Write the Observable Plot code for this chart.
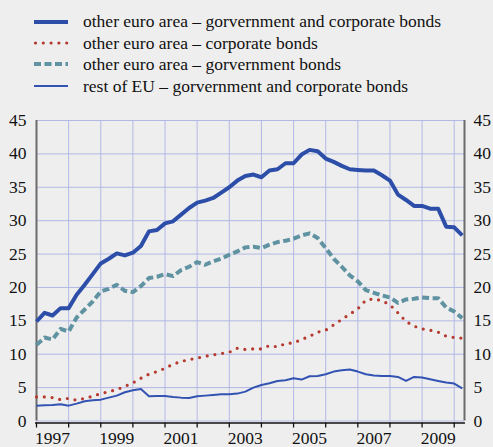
<!DOCTYPE html>
<html>
<head>
<meta charset="utf-8">
<script src="https://cdn.jsdelivr.net/npm/d3@7"></script>
<script src="https://cdn.jsdelivr.net/npm/@observablehq/plot@0.6"></script>
<style>
  body { margin: 0; background: #eeeeee; font-size: 17.5px; }
  .c1 { font-family: 'Liberation Serif'; }
  #legend { position: relative; height: 110px; }
  .sample { position: absolute; left: 34px; width: 34px; height: 8px; overflow: visible; }
  .ltext { position: absolute; left: 83px; white-space: nowrap; line-height: 20px; color: #111; }
</style>
</head>
<body class="c1">
<div id="legend"></div>
<div id="chart"></div>
<script>
// ---- data (quarterly, 1997 Q1 to 2010 Q2), % ----
const startYear = 1997;
const seriesNames = [
  "other euro area – gorvernment and corporate bonds",
  "other euro area – corporate bonds",
  "other euro area – gorvernment bonds",
  "rest of EU – gorvernment and corporate bonds"
];
const euroGovCorp = [14.9,16.2,15.8,16.9,16.9,18.9,20.4,22.0,23.6,24.3,25.1,24.8,25.2,26.2,28.4,28.6,29.6,29.9,30.9,31.9,32.7,33.0,33.4,34.2,35.0,36.0,36.7,36.9,36.5,37.5,37.7,38.6,38.6,39.9,40.6,40.4,39.3,38.8,38.2,37.7,37.6,37.5,37.5,36.8,36.0,33.9,33.1,32.2,32.2,31.8,31.8,29.1,29.0,27.8];
const euroCorp = [3.6,3.6,3.5,3.2,3.4,3.1,3.4,3.7,4.1,4.4,4.7,5.2,5.7,6.4,7.0,7.4,7.9,8.5,8.9,9.2,9.4,9.7,9.9,10.1,10.3,10.9,10.7,10.8,10.8,11.3,11.1,11.6,11.7,12.2,12.7,13.3,13.6,14.4,15.2,16.0,16.8,18.1,18.3,18.0,17.4,16.2,14.9,14.2,13.8,13.6,13.3,12.7,12.5,12.4];
const euroGov = [11.4,12.5,12.2,13.8,13.4,15.5,16.7,17.9,19.4,19.8,20.4,19.5,19.3,20.2,21.4,21.6,22.0,21.7,22.6,23.1,23.8,23.4,23.9,24.3,24.9,25.4,26.0,26.1,25.9,26.4,26.8,27.0,27.3,27.8,28.1,27.4,25.9,24.3,23.1,21.8,20.9,19.6,19.2,18.8,18.5,17.7,18.2,18.3,18.5,18.4,18.4,17.0,16.4,15.4];
const restEU = [2.3,2.35,2.4,2.5,2.3,2.6,2.95,3.1,3.2,3.5,3.8,4.3,4.6,4.8,3.7,3.75,3.75,3.6,3.5,3.45,3.7,3.8,3.9,4.0,4.0,4.1,4.4,5.0,5.4,5.65,6.0,6.1,6.4,6.2,6.7,6.75,7.0,7.4,7.6,7.7,7.4,7.0,6.8,6.75,6.75,6.6,6.0,6.6,6.5,6.25,6.0,5.75,5.6,4.9];
const yTicks = [0,5,10,15,20,25,30,35,40,45];
const yearTicks = [1997,1998,1999,2000,2001,2002,2003,2004,2005,2006,2007,2008,2009,2010];
const yearLabels = [1997,1999,2001,2003,2005,2007,2009];

// ---- styles ----
const styles = [
  {stroke: "#2d4ea8", strokeWidth: 4, dash: null, cap: "butt"},
  {stroke: "#b63a2f", strokeWidth: 3.2, dash: "0,7.8", cap: "round"},
  {stroke: "#5f93a1", strokeWidth: 4, dash: "7,3.5", cap: "butt"},
  {stroke: "#3353b2", strokeWidth: 2, dash: null, cap: "butt"}
];
const allSeries = [euroGovCorp, euroCorp, euroGov, restEU];
const toRows = (vals) => vals.map((v, k) => ({x: startYear + k / 4, y: v}));

// ---- legend ----
const legend = document.getElementById("legend");
const rowCenters = [21.5, 43, 64, 86];
seriesNames.forEach((name, i) => {
  const s = styles[i];
  const sw = document.createElementNS("http://www.w3.org/2000/svg", "svg");
  sw.setAttribute("class", "sample");
  sw.setAttribute("viewBox", "0 0 34 8");
  sw.style.top = (rowCenters[i] - 4) + "px";
  sw.innerHTML = `<line x1="${s.cap === "round" ? 1.5 : 0}" y1="4" x2="34" y2="4" stroke="${s.stroke}" stroke-width="${s.strokeWidth}" ${s.dash ? `stroke-dasharray="${s.dash}"` : ""} stroke-linecap="${s.cap}"/>`;
  legend.appendChild(sw);
  const t = document.createElement("div");
  t.className = "ltext";
  t.textContent = name;
  t.style.top = (rowCenters[i] - 10.5) + "px";
  t.style.fontFamily = "'Liberation Serif'";
  legend.appendChild(t);
});

// ---- chart ----
const drawOrder = [2, 1, 3, 0];
const lineMarks = drawOrder.map(i => Plot.line(toRows(allSeries[i]), {
  x: "x", y: "y",
  stroke: styles[i].stroke,
  strokeWidth: styles[i].strokeWidth,
  strokeDasharray: styles[i].dash || undefined,
  strokeLinecap: styles[i].cap,
  strokeLinejoin: "round"
}));

const xMax = 2010.32;
const chart = Plot.plot({
  width: 493,
  height: 337,
  marginTop: 10,
  marginBottom: 26.5,
  marginLeft: 36,
  marginRight: 29,
  style: {background: "transparent", fontFamily: "Liberation Serif", fontSize: "17.5px", color: "#111"},
  x: {domain: [startYear, xMax], label: null},
  y: {domain: [0, 45], label: null},
  marks: [
    Plot.gridY(yTicks, {stroke: "#b3b8e6", strokeOpacity: 1, strokeWidth: 1}),
    Plot.gridX(yearTicks.slice(1), {stroke: "#b3b8e6", strokeOpacity: 1, strokeWidth: 1}),
    Plot.ruleX([startYear, xMax], {stroke: "#6b6b6b", strokeWidth: 2, y1: 0, y2: 45}),
    Plot.ruleY([0], {stroke: "#111", strokeWidth: 1.3, dy: 2, x1: startYear - 0.03, x2: xMax + 0.03}),
    Plot.axisX(yearTicks, {tickSize: 5, tickFormat: () => "", label: null, dy: 2, stroke: "#111", strokeWidth: 1.3}),
    Plot.text(yearLabels, {x: d => d + 0.5, y: 0, text: d => String(d), dy: 22.5, lineAnchor: "bottom", fill: "#111"}),
    Plot.axisY(yTicks, {anchor: "left", tickSize: 0, tickPadding: 10, fill: "#111", label: null}),
    Plot.axisY(yTicks, {anchor: "right", tickSize: 0, tickPadding: 9, fill: "#111", label: null}),
    ...lineMarks
  ]
});
chart.style.display = "block";
document.getElementById("chart").appendChild(chart);
</script>
</body>
</html>
